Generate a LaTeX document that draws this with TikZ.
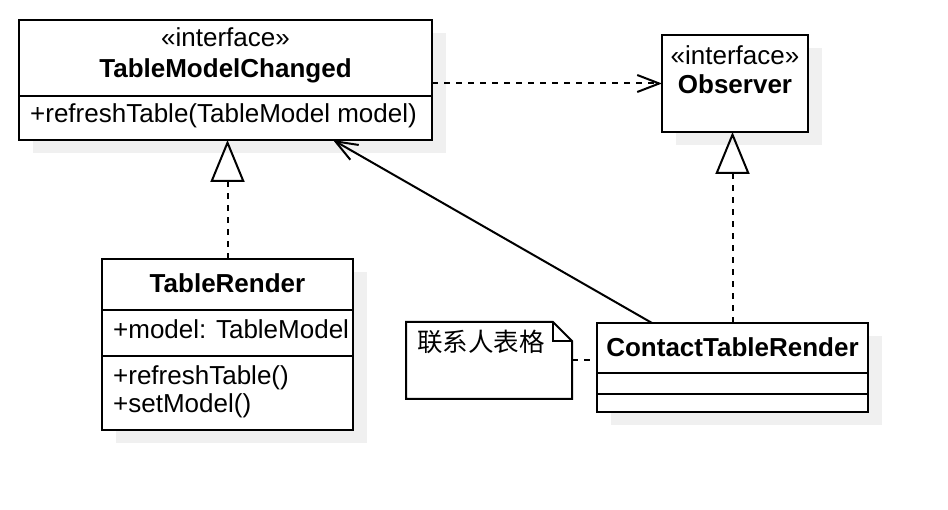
\documentclass[tikz,border=0pt]{standalone}
\usepackage{fontspec}
\setmainfont{Liberation Sans}
\newfontfamily\cjk{Noto Sans CJK SC}
\usepackage{tikz}
\usetikzlibrary{arrows.meta,positioning,calc,backgrounds}
\definecolor{shadowgray}{HTML}{F0F0F0}

\begin{document}
\begin{tikzpicture}[x=1pt,y=-1pt,font=\fontsize{26}{29}\selectfont,
  box/.style={draw,line width=2pt,fill=white,inner sep=0pt,outer sep=0pt,anchor=north west},
  boxshade/.style={fill=shadowgray,draw=none},
  lbl/.style={inner sep=0pt,anchor=base},
  lft/.style={inner sep=0pt,anchor=base west},
  ttl/.style={lbl,font=\fontsize{26}{29}\selectfont\bfseries},
  divider/.style={line width=2pt},
  dep/.style={line width=2pt,dash pattern=on 6pt off 6pt},
  realize/.style={dep,-{Triangle[open,length=42pt,width=34pt]}},
  uses/.style={dep,-{Straight Barb[length=22pt,width=17pt]}},
  assoc/.style={line width=2pt,-{Straight Barb[length=22pt,width=17pt]}}]
\useasboundingbox (0,0) rectangle (948,510);
% interface TableModelChanged
\node[box,minimum width=413pt,minimum height=120pt] (tmc) at (19,20) {};
\node[lbl] (tmcst) at (225.5,47) {«interface»};
\node[ttl] (tmcname) at (225.5,78) {TableModelChanged};
\node[lft] (tmcop) at (30,123) {+refreshTable(TableModel model)};
\draw[divider] ([yshift=-76pt]tmc.north west) -- ([yshift=-76pt]tmc.north east);
% interface Observer
\node[box,minimum width=146pt,minimum height=97pt] (obs) at (662,35) {};
\node[lbl] (obsst) at (735,65) {«interface»};
\node[ttl] (obsname) at (735,94) {Observer};
% class TableRender
\node[box,minimum width=251pt,minimum height=171pt] (tr) at (102,259) {};
\node[ttl] (trname) at (227.5,293) {TableRender};
\node[lft] (trattr) at (113,339) {+model: TableModel};
\node[lft] (trop1) at (113,385) {+refreshTable()};
\node[lft] (trop2) at (113,413) {+setModel()};
\draw[divider] ([yshift=-51pt]tr.north west) -- ([yshift=-51pt]tr.north east);
\draw[divider] ([yshift=-97pt]tr.north west) -- ([yshift=-97pt]tr.north east);
% class ContactTableRender
\node[box,minimum width=271pt,minimum height=89pt] (ctr) at (597,323) {};
\node[ttl] (ctrname) at (732.5,356.5) {ContactTableRender};
\draw[divider] ([yshift=-50pt]ctr.north west) -- ([yshift=-50pt]ctr.north east);
\draw[divider] ([yshift=-71pt]ctr.north west) -- ([yshift=-71pt]ctr.north east);
% note
\node[inner sep=0pt,outer sep=0pt,anchor=north west,minimum width=166pt,minimum height=77pt] (note) at (406,322) {};
\draw[line width=2pt,fill=white] (note.north west) -- ([xshift=-19pt]note.north east)
  -- ([yshift=-19pt]note.north east) -- (note.south east) -- (note.south west) -- cycle;
\draw[line width=2pt] ([xshift=-19pt]note.north east) |- ([yshift=-19pt]note.north east);
\node[lft,font=\fontsize{25.5}{29}\selectfont\cjk] (notetxt) at (417,352) {联系人表格};
% shadows
\begin{scope}[on background layer]
\foreach \n in {tmc,obs,tr,ctr}
  \fill[boxshade] ([shift={(14pt,-13pt)}]\n.north west) rectangle ([shift={(14pt,-13pt)}]\n.south east);
\end{scope}
% connectors
\draw[uses] (tmc.east |- obs.west) -- (obs.west);
\draw[realize] (tr.north) -- (tr.north |- tmc.south);
\draw[realize] (ctr.north) -- (ctr.north |- obs.south);
\draw[assoc] ([xshift=55pt]ctr.north west) -- ([xshift=314pt]tmc.south west);
\draw[dep] (note.east) -- (note.east -| ctr.west);
\end{tikzpicture}
\end{document}
